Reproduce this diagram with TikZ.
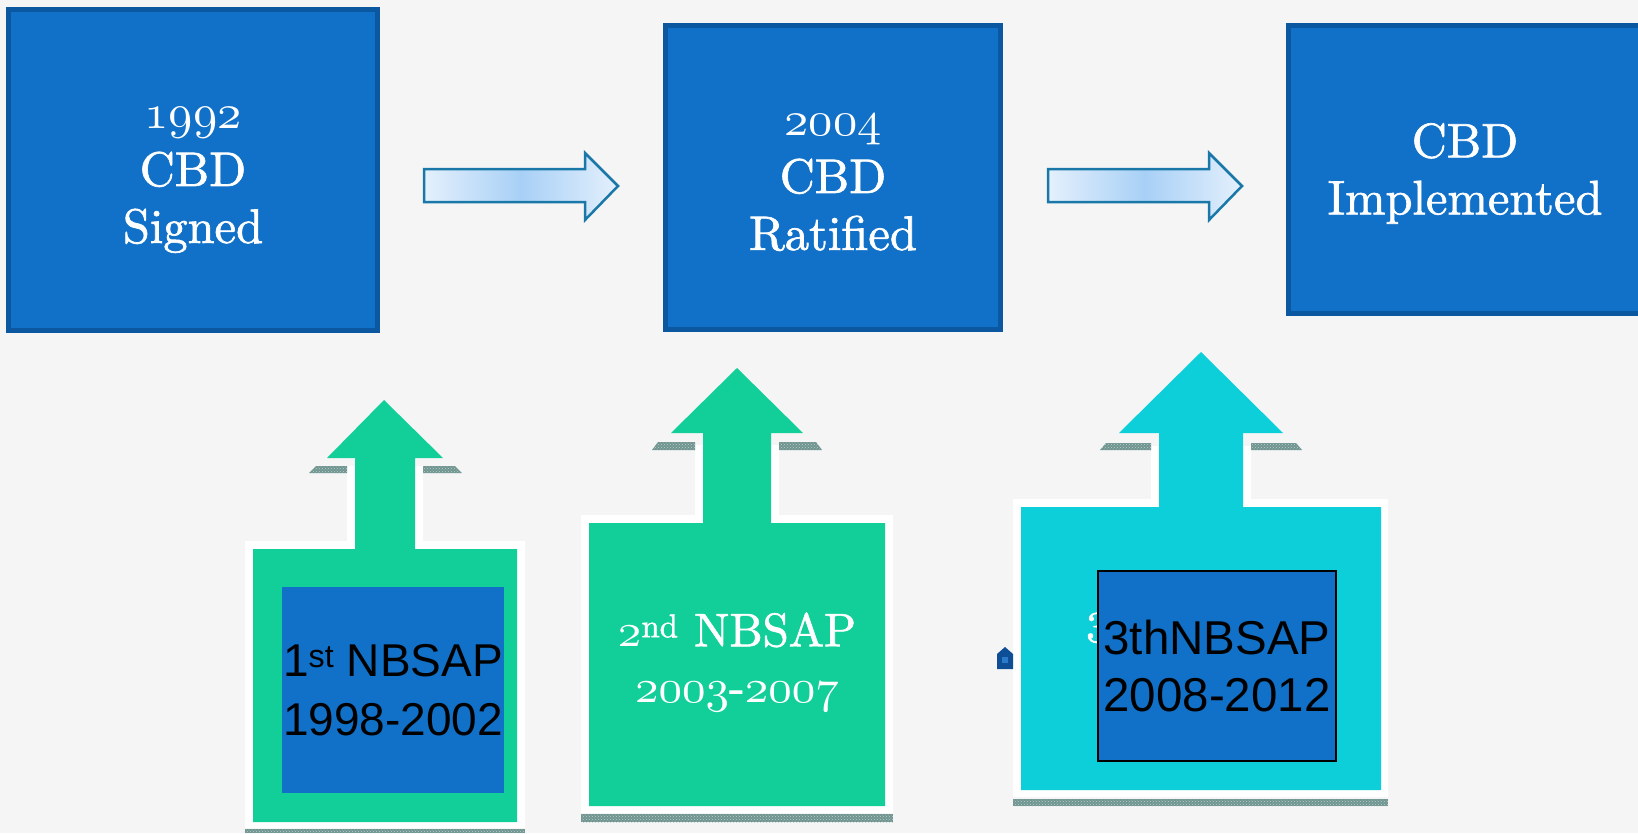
\documentclass[tikz,border=0pt]{standalone}
\usepackage{fontspec}
\usetikzlibrary{patterns}
\newfontfamily\arialfont{Liberation Sans}
\newfontfamily\consfont{lmroman10-regular.otf}[FakeBold=1.4]
\font\osbig=cmmi10 at 48.5pt
\font\osmid=cmmi10 at 47pt
\definecolor{bg}{HTML}{F5F5F5}
\definecolor{boxblue}{HTML}{1170C7}
\definecolor{boxedge}{HTML}{0B57A0}
\definecolor{arredge}{HTML}{1A78A8}
\definecolor{arrlight}{HTML}{E4F0FC}
\definecolor{arrmid}{HTML}{A8D0F6}
\definecolor{green1}{HTML}{12CF9A}
\definecolor{cyan1}{HTML}{0CCFD9}
\definecolor{strip}{HTML}{6F9590}
\definecolor{house}{HTML}{0D4E96}
\definecolor{houselight}{HTML}{2A7ACC}
\tikzset{
  cbdbox/.style={rectangle, draw=boxedge, line width=5pt, fill=boxblue, inner sep=0pt},
  cbdtext/.style={text=white, align=center, inner sep=0pt, font=\consfont\fontsize{48.5}{57}\selectfont},
  blockarrow/.style={draw=arredge, line width=2.5pt, line join=miter, left color=arrlight, right color=arrlight, middle color=arrmid},
  halo/.style={fill=white},
  shadowstrip/.style={fill=strip, postaction={pattern=crosshatch dots, pattern color=strip!45!white}},
  innerbox/.style={rectangle, fill=boxblue, inner sep=0pt, align=center, text=black, font=\arialfont\fontsize{46}{59}\selectfont},
}
\begin{document}
\begin{tikzpicture}[x=1pt,y=-1pt]
\useasboundingbox (0,0) rectangle (1638,833);
\fill[bg] (0,0) rectangle (1638,833);

% top boxes
\node[cbdbox, minimum width=369pt, minimum height=321pt] (b1) at (193,170) {};
\node[cbdtext] (t1) at ([yshift=-10.5pt]b1.center) {{\osbig 1992}\\CBD\\Signed};
\node[cbdbox, minimum width=335pt, minimum height=304pt] (b2) at (833,177.5) {};
\node[cbdtext] (t2) at ([yshift=-5.5pt]b2.center) {{\osbig 2004}\\CBD\\Ratified};
\node[cbdbox, minimum width=353pt, minimum height=288pt] (b3) at (1465,169.5) {};
\node[cbdtext] (t3) at ([yshift=-4pt]b3.center) {CBD\\Implemented};

% horizontal block arrows
\draw[blockarrow] (424,169) -- (585,169) -- (585,153) -- (618,186) -- (585,220) -- (585,202) -- (424,202) -- cycle;
\draw[blockarrow] (1048,169) -- (1209,169) -- (1209,153) -- (1242,186) -- (1209,220) -- (1209,202) -- (1048,202) -- cycle;

% callout 1
\fill[halo] (245,541) -- (347,541) -- (347,466) -- (423,466) -- (423,541) -- (525,541) -- (525,828) -- (245,828) -- cycle;
\fill[shadowstrip] (309,473) -- (316,466) -- (347,466) -- (347,473) -- cycle;
\fill[shadowstrip] (423,466) -- (455,466) -- (462,473) -- (423,473) -- cycle;
\fill[shadowstrip] (245,829) rectangle (525,833);
\fill[green1] (253,549) -- (355,549) -- (355,458) -- (327,458) -- (384,400) -- (443,458) -- (415,458) -- (415,549) -- (517,549) -- (517,822) -- (253,822) -- cycle;
\node[innerbox, minimum width=222pt, minimum height=206pt] (n1) at (393,690) {1\textsuperscript{st} NBSAP\\1998-2002};

% callout 2
\fill[halo] (581,515) -- (695,515) -- (695,445) -- (779,445) -- (779,515) -- (893,515) -- (893,813) -- (581,813) -- cycle;
\fill[shadowstrip] (652,450) -- (658,442) -- (695,442) -- (695,450) -- cycle;
\fill[shadowstrip] (779,442) -- (816,442) -- (822,450) -- (779,450) -- cycle;
\fill[shadowstrip] (581,814) rectangle (893,822);
\fill[green1] (589,523) -- (703,523) -- (703,433) -- (671,433) -- (737,368) -- (803,433) -- (771,433) -- (771,523) -- (885,523) -- (885,806) -- (589,806) -- cycle;
\node[text=white, align=center, inner sep=0pt, font=\consfont\fontsize{47}{56}\selectfont] (n2) at (737,662) {{\osmid 2}\textsuperscript{nd} NBSAP\\{\osmid 2003}-{\osmid 2007}};

% callout 3
\fill[halo] (1013,499) -- (1151,499) -- (1151,446) -- (1251,446) -- (1251,499) -- (1388,499) -- (1388,797) -- (1013,797) -- cycle;
\fill[shadowstrip] (1100,450) -- (1106,443) -- (1151,443) -- (1151,450) -- cycle;
\fill[shadowstrip] (1251,443) -- (1296,443) -- (1302,450) -- (1251,450) -- cycle;
\fill[shadowstrip] (1013,799) rectangle (1388,806);
\fill[cyan1] (1021,507) -- (1159,507) -- (1159,433) -- (1119,433) -- (1201,352) -- (1283,433) -- (1243,433) -- (1243,507) -- (1381,507) -- (1381,790) -- (1021,790) -- cycle;
\node[text=white, inner sep=0pt, anchor=base west, font=\consfont\fontsize{44}{56}\selectfont] (n3hidden) at (1086,642) {3};
\node[innerbox, draw=black, line width=2pt, minimum width=238pt, minimum height=190pt, font=\arialfont\fontsize{47.5}{57}\selectfont] (n3) at (1217,666) {3thNBSAP\\2008-2012};

% small house icon
\fill[house] (997,654) -- (1005,647) -- (1013,654) -- (1013,669) -- (997,669) -- cycle;
\fill[houselight] (1002,657) rectangle (1008,663);
\end{tikzpicture}
\end{document}
